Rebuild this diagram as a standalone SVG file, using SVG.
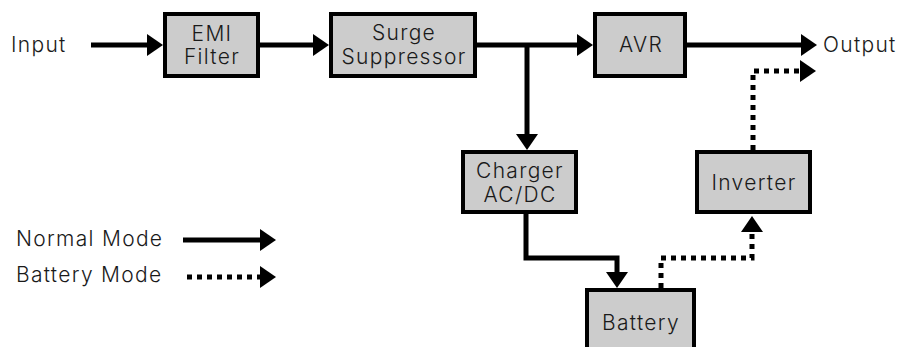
<svg xmlns="http://www.w3.org/2000/svg" width="906" height="347" viewBox="0 0 906 347">
<style>
.box{fill:#cccccc;stroke:#000;stroke-width:4}
.t{font-family:Inter,"Liberation Sans",sans-serif;font-size:21px;font-weight:300;fill:#1a1a1a;letter-spacing:1.3px}
.c{text-anchor:middle}
.w{fill:none;stroke:#000;stroke-width:5}
.d{stroke-dasharray:5 5}
</style>
<defs>
<marker id="ah" markerUnits="userSpaceOnUse" markerWidth="17" markerHeight="22" refX="1" refY="11" orient="auto" viewBox="0 0 17 22">
<path d="M0,0 L16,11 L0,22 z" fill="#000"/>
</marker>
</defs>
<rect width="906" height="347" fill="#fff"/>
<g id="connectors">
<path class="w" d="M91,45 H148" marker-end="url(#ah)"/>
<path class="w" d="M260,45 H314" marker-end="url(#ah)"/>
<path class="w" d="M477,45 H578" marker-end="url(#ah)"/>
<path class="w" d="M527,45 V135" marker-end="url(#ah)"/>
<path class="w" d="M687,45 H802" marker-end="url(#ah)"/>
<path class="w" d="M526,214 V258 H617 V273" marker-end="url(#ah)"/>
<path class="w d" d="M661,288 V258 H752 V231" marker-end="url(#ah)"/>
<path class="w d" d="M753,150 V71 H801" marker-end="url(#ah)"/>
<path class="w" d="M183,240 H261" marker-end="url(#ah)"/>
<path class="w d" d="M187,277 H261" marker-end="url(#ah)"/>
</g>
<g id="input"><text class="t" x="11" y="52">Input</text></g>
<g id="emi"><rect class="box" x="165" y="14" width="93" height="62"/><text class="t c" x="212" y="41">EMI</text><text class="t c" x="212" y="64">Filter</text></g>
<g id="surge"><rect class="box" x="331" y="14" width="144" height="62"/><text class="t c" x="404" y="40">Surge</text><text class="t c" x="404" y="64">Suppressor</text></g>
<g id="avr"><rect class="box" x="595" y="14" width="90" height="62"/><text class="t c" x="641" y="52">AVR</text></g>
<g id="output"><text class="t" x="823" y="52">Output</text></g>
<g id="charger"><rect class="box" x="463" y="152" width="113" height="60"/><text class="t c" x="520" y="178">Charger</text><text class="t c" x="520" y="202">AC/DC</text></g>
<g id="inverter"><rect class="box" x="697" y="152" width="113" height="60"/><text class="t c" x="754" y="190">Inverter</text></g>
<g id="battery"><rect class="box" x="587" y="290" width="107" height="70"/><text class="t c" x="641" y="330">Battery</text></g>
<g id="legend"><text class="t" x="16" y="246">Normal Mode</text><text class="t" x="16" y="282">Battery Mode</text></g>
</svg>
